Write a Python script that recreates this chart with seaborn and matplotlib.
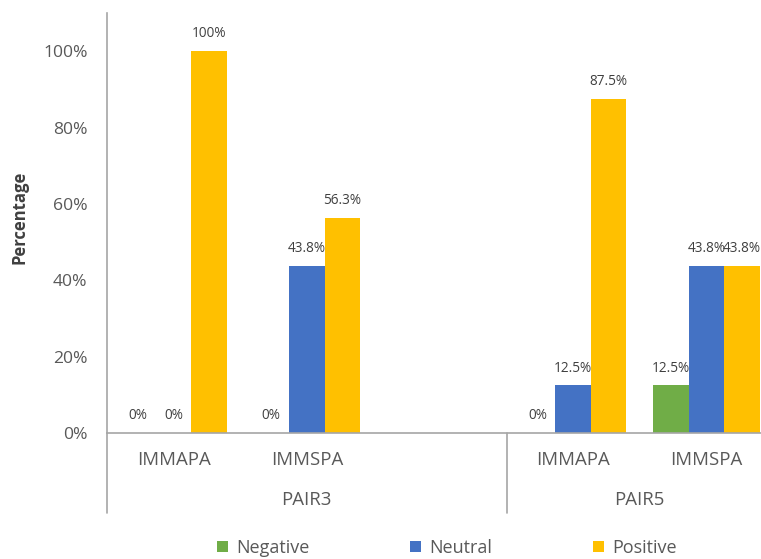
import matplotlib
matplotlib.use("Agg")
import matplotlib.pyplot as plt
import seaborn as sns
import pandas as pd
from matplotlib.ticker import FuncFormatter

# Sentiment shares (%) per pair and method
pairs = ["PAIR3", "PAIR3", "PAIR5", "PAIR5"]
methods = ["IMMAPA", "IMMSPA", "IMMAPA", "IMMSPA"]
negative = [0, 0, 0, 12.5]
neutral = [0, 43.8, 12.5, 43.8]
positive = [100, 56.3, 87.5, 43.8]
sentiments = ["Negative", "Neutral", "Positive"]
colors = ["#70AD47", "#4472C4", "#FFC000"]
y_ticks = [0, 20, 40, 60, 80, 100]

# category slots along x (PAIR3 keeps an empty third slot)
slots = ["PAIR3|IMMAPA", "PAIR3|IMMSPA", "PAIR3|", "PAIR5|IMMAPA", "PAIR5|IMMSPA"]

rows = []
for p, m, ng, nu, po in zip(pairs, methods, negative, neutral, positive):
    for s, v in zip(sentiments, [ng, nu, po]):
        rows.append({"slot": f"{p}|{m}", "Sentiment": s, "value": v})
df = pd.DataFrame(rows)

sns.set_theme(style="white")
plt.rcParams["font.family"] = ["Open Sans", "DejaVu Sans"]

W, H = 761, 559
fig = plt.figure(figsize=(W / 100, H / 100), dpi=100)
x0, x1, y_base, y_top = 107, 773, 433, 13
ax = fig.add_axes([x0 / W, (H - y_base) / H, (x1 - x0) / W, (y_base - y_top) / H])

sns.barplot(data=df, x="slot", y="value", hue="Sentiment", order=slots,
            hue_order=sentiments, palette=colors, width=0.8, ax=ax,
            edgecolor="none", saturation=1, legend=True)

ax.set_xlim(-0.5, 4.5)
ax.set_ylim(0, 110)
ax.set_yticks(y_ticks)
ax.yaxis.set_major_formatter(FuncFormatter(lambda v, _: f"{v:.0f}%"))
ax.tick_params(axis="y", length=0, pad=14, labelsize=12.6, labelcolor="#595959")
ax.set_xticks([])
ax.set_xlabel("")
ax.set_ylabel("")

for side in ["top", "right"]:
    ax.spines[side].set_visible(False)
axis_col = "#A6A6A6"
ax.spines["left"].set_color(axis_col)
ax.spines["bottom"].set_color(axis_col)
ax.spines["left"].set_linewidth(1.2)
ax.spines["bottom"].set_linewidth(1.2)

# value labels above each bar
def fmt(v):
    return f"{v:.0f}%" if float(v).is_integer() else f"{v:.1f}%"

for c in ax.containers:
    ax.bar_label(c, labels=[fmt(v) for v in c.datavalues], padding=7,
                 fontsize=9.8, color="#404040")

# two-level category axis
tr = ax.get_xaxis_transform()
depth = -(513 - y_base) / (y_base - y_top)
ax.plot([-0.5, -0.5], [0, depth], transform=tr, color=axis_col, lw=1.2, clip_on=False)
ax.plot([2.5, 2.5], [0, depth], transform=tr, color=axis_col, lw=1.2, clip_on=False)

row1 = -(460 - y_base) / (y_base - y_top)
row2 = -(500 - y_base) / (y_base - y_top)
for i, s in enumerate(slots):
    m = s.split("|")[1]
    if m:
        ax.text(i, row1, m, transform=tr, ha="center", va="center",
                fontsize=13.4, color="#595959")
ax.text(1, row2, "PAIR3", transform=tr, ha="center", va="center",
        fontsize=13.4, color="#595959")
ax.text(3.5, row2, "PAIR5", transform=tr, ha="center", va="center",
        fontsize=13.4, color="#595959")

fig.text(20 / W, 1 - 217 / H, "Percentage", rotation=90, ha="center", va="center",
         fontsize=12, fontweight="bold", color="#404040")

handles, labels = ax.get_legend_handles_labels()
ax.get_legend().remove()
fig.legend(handles, labels, loc="center", bbox_to_anchor=(447 / W, 1 - 548 / H),
           ncol=3, frameon=False, fontsize=13, labelcolor="#595959",
           handlelength=0.6, handleheight=0.6, handletextpad=0.45,
           columnspacing=5.6, borderaxespad=0, borderpad=0)

fig.savefig("out.png", dpi=100)
